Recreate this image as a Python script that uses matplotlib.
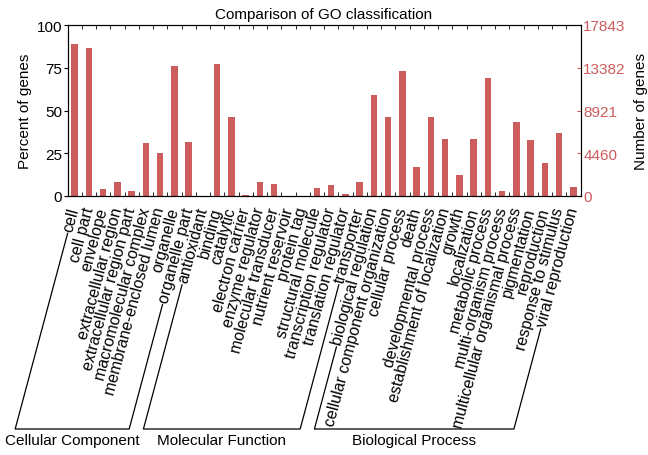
import numpy as np
import matplotlib
matplotlib.use("Agg")
import matplotlib.pyplot as plt
from matplotlib.lines import Line2D

plt.rcParams['font.family'] = ['Liberation Sans', 'DejaVu Sans']
plt.rcParams['font.size'] = 11

cc_terms = ["cell", "cell part", "envelope", "extracellular region",
            "extracellular region part", "macromolecular complex",
            "membrane-enclosed lumen", "organelle", "organelle part"]
mf_terms = ["antioxidant", "binding", "catalytic", "electron carrier",
            "enzyme regulator", "molecular transducer", "nutrient reservoir",
            "protein tag", "structural molecule", "transcription regulator",
            "translation regulator", "transporter"]
bp_terms = ["biological regulation", "cellular component organization",
            "cellular process", "death", "developmental process",
            "establishment of localization", "growth", "localization",
            "metabolic process", "multi-organism process",
            "multicellular organismal process", "pigmentation",
            "reproduction", "response to stimulus", "viral reproduction"]

cc_pct = [89.1, 86.6, 3.9, 8.0, 3.1, 30.9, 24.9, 75.8, 31.5]
mf_pct = [0.2, 77.4, 46.3, 0.4, 8.2, 6.8, 0.0, 0.0, 4.8, 6.6, 1.4, 8.0]
bp_pct = [59.2, 46.1, 72.9, 16.9, 46.3, 33.1, 12.4, 33.1, 69.1, 2.9,
          43.2, 32.9, 19.5, 37.0, 5.3]

group_names = ["Cellular Component", "Molecular Function", "Biological Process"]
total_genes = 17843
right_ticks = [0, 4460, 8921, 13382, 17843]

terms = cc_terms + mf_terms + bp_terms
pct = cc_pct + mf_pct + bp_pct
group_sizes = [len(cc_terms), len(mf_terms), len(bp_terms)]

bar_color = '#cd5c5c'
angle = 75

fig = plt.figure(figsize=(6.48, 4.56), dpi=100)
ax = fig.add_axes([67.5 / 648, 1 - 197 / 456, (580.5 - 67.5) / 648, (197 - 26) / 456])

x = np.arange(len(terms))
ax.bar(x, pct, width=0.47, color=bar_color)
ax.set_xlim(-0.5, len(terms) - 0.5)
ax.set_ylim(0, 100)
ax.set_yticks([0, 25, 50, 75, 100])
ax.set_ylabel("Percent of genes", labelpad=3)
ax.set_title("Comparison of GO classification", fontsize=11, pad=5)

ax.set_xticks(x)
ax.set_xticklabels(terms, rotation=angle, ha='right', va='center',
                   rotation_mode='anchor', fontsize=11.5)
ax.tick_params(axis='x', which='major', length=0, pad=8)
ax.set_xticks(np.arange(0.5, len(terms) - 1, 1), minor=True)
ax.tick_params(axis='x', which='minor', direction='in', length=3,
               top=True, bottom=True)
ax.tick_params(axis='y', direction='out', length=3, pad=1)

ax2 = ax.twinx()
ax2.set_ylim(0, total_genes)
ax2.set_yticks(right_ticks)
ax2.tick_params(axis='y', direction='in', length=3, pad=2, colors=bar_color,
                labelcolor=bar_color)
ax2.spines['right'].set_color('black')
ax2.set_ylabel("Number of genes", labelpad=6)

# bracket lines under the rotated labels
fig.canvas.draw()
renderer = fig.canvas.get_renderer()
labels = ax.get_xticklabels()
direction = np.array([np.cos(np.radians(angle)), np.sin(np.radians(angle))])
y_base = 26.0
gap = 3.0


def label_end(lbl):
    anchor = lbl.get_transform().transform(lbl.get_position())
    lbl.set_rotation(0)
    w = lbl.get_window_extent(renderer).width
    lbl.set_rotation(angle)
    start = anchor - (w + gap) * direction
    t = (start[1] - y_base) / direction[1]
    bottom = start - t * direction
    return start, bottom


inv = fig.transFigure.inverted()
first = 0
for name, size in zip(group_names, group_sizes):
    s1, b1 = label_end(labels[first])
    s2, b2 = label_end(labels[first + size - 1])
    pts = inv.transform(np.array([s1, b1, b2, s2]))
    fig.add_artist(Line2D(pts[:, 0], pts[:, 1], color='black', lw=0.9,
                          transform=fig.transFigure))
    mid = inv.transform([(b1[0] + b2[0]) / 2, y_base - 11.5])
    fig.text(mid[0], mid[1], name, ha='center', va='center', fontsize=11)
    first += size

fig.savefig("out.png", dpi=100)
